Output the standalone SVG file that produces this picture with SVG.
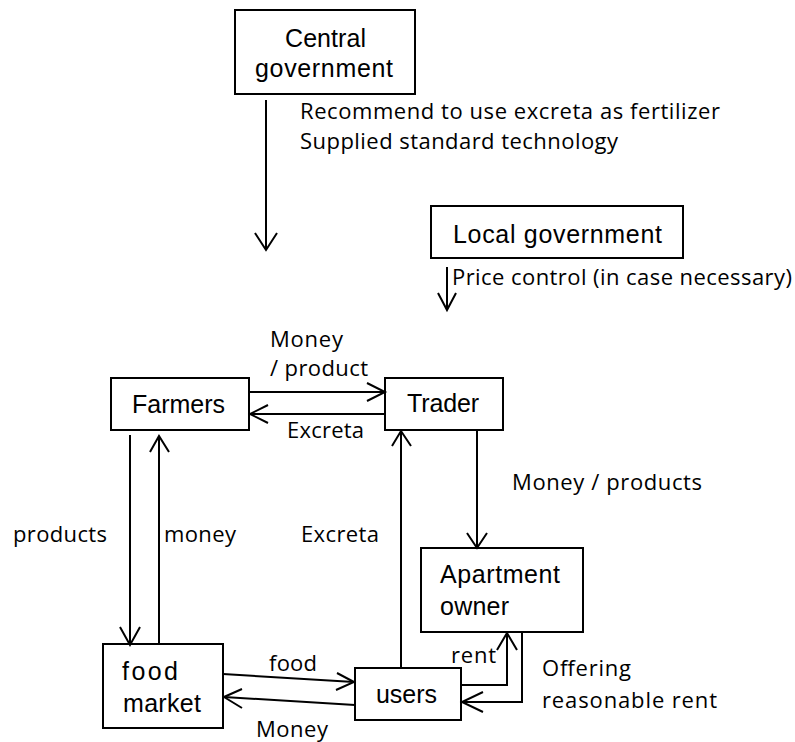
<svg xmlns="http://www.w3.org/2000/svg" width="795" height="742" viewBox="0 0 795 742">
<defs>
<style>
.box{fill:#fff;stroke:#000;stroke-width:2}
.nt{font-family:"Liberation Sans",Arial,sans-serif;font-size:25px;fill:#000}
.et{font-family:"Open Sans","Liberation Sans",sans-serif;font-size:22px;fill:#000}
.ln{fill:none;stroke:#000;stroke-width:2}
.hd{fill:none;stroke:#000;stroke-width:2;stroke-linejoin:miter}
</style>
</defs>
<rect width="795" height="742" fill="#fff"/>
<g id="central">
<rect class="box" x="235" y="10" width="180" height="84"/>
<text class="nt" x="285" y="47" textLength="81">Central</text>
<text class="nt" x="255" y="77" textLength="138">government</text>
</g>
<g id="local">
<rect class="box" x="431" y="206" width="252" height="52"/>
<text class="nt" x="453" y="243" textLength="209">Local government</text>
</g>
<g id="farmers">
<rect class="box" x="111" y="378" width="138" height="52"/>
<text class="nt" x="132" y="413" textLength="93">Farmers</text>
</g>
<g id="trader">
<rect class="box" x="385" y="378" width="118" height="52"/>
<text class="nt" x="407" y="412" textLength="72">Trader</text>
</g>
<g id="foodmarket">
<rect class="box" x="103" y="644" width="120" height="84"/>
<text class="nt" x="122" y="680" textLength="56">food</text>
<text class="nt" x="123" y="712" textLength="78">market</text>
</g>
<g id="users">
<rect class="box" x="355" y="668" width="106" height="52"/>
<text class="nt" x="376" y="703" textLength="61">users</text>
</g>
<g id="apartment">
<rect class="box" x="421" y="548" width="162" height="84"/>
<text class="nt" x="440" y="583" textLength="120">Apartment</text>
<text class="nt" x="440" y="615" textLength="69">owner</text>
</g>
<g id="connectors">
<path class="ln" d="M266 100V250"/>
<path class="hd" d="M255 233L266 250L277 233"/>
<path class="ln" d="M447 267V310"/>
<path class="hd" d="M438 293L447 310L456 293"/>
<path class="ln" d="M249 392H385"/>
<path class="hd" d="M367 383L385 392L367 401"/>
<path class="ln" d="M385 414H250"/>
<path class="hd" d="M268 405L250 414L268 423"/>
<path class="ln" d="M130 435V645"/>
<path class="hd" d="M120 627L130 645L140 627"/>
<path class="ln" d="M159 644V436"/>
<path class="hd" d="M150 452L159 436L169 452"/>
<path class="ln" d="M401 668V431"/>
<path class="hd" d="M392 446L401 431L411 446"/>
<path class="ln" d="M477 430V548"/>
<path class="hd" d="M467 533L477 548L487 533"/>
<path class="ln" d="M223 674L354 682"/>
<path class="hd" d="M337 673L354 682L336 690"/>
<path class="ln" d="M355 705L224 697"/>
<path class="hd" d="M242 689L224 697L242 708"/>
<path class="ln" d="M461 685H507V633"/>
<path class="hd" d="M497 650L507 633L517 650"/>
<path class="ln" d="M522 632V702H462"/>
<path class="hd" d="M483 692L462 702L483 712"/>
</g>
<g id="labels">
<text class="et" x="300" y="119" textLength="420">Recommend to use excreta as fertilizer</text>
<text class="et" x="300" y="149" textLength="318">Supplied standard technology</text>
<text class="et" x="452" y="285" textLength="340">Price control (in case necessary)</text>
<text class="et" x="270" y="347" textLength="73">Money</text>
<text class="et" x="270" y="376" textLength="98">/ product</text>
<text class="et" x="287" y="438" textLength="77">Excreta</text>
<text class="et" x="13" y="542" textLength="94">products</text>
<text class="et" x="164" y="542" textLength="72">money</text>
<text class="et" x="301" y="542" textLength="78">Excreta</text>
<text class="et" x="512" y="490" textLength="190">Money / products</text>
<text class="et" x="269" y="671" textLength="48">food</text>
<text class="et" x="256" y="737" textLength="72">Money</text>
<text class="et" x="451" y="663" textLength="45">rent</text>
<text class="et" x="542" y="676" textLength="89">Offering</text>
<text class="et" x="542" y="708" textLength="175">reasonable rent</text>
</g>
</svg>
